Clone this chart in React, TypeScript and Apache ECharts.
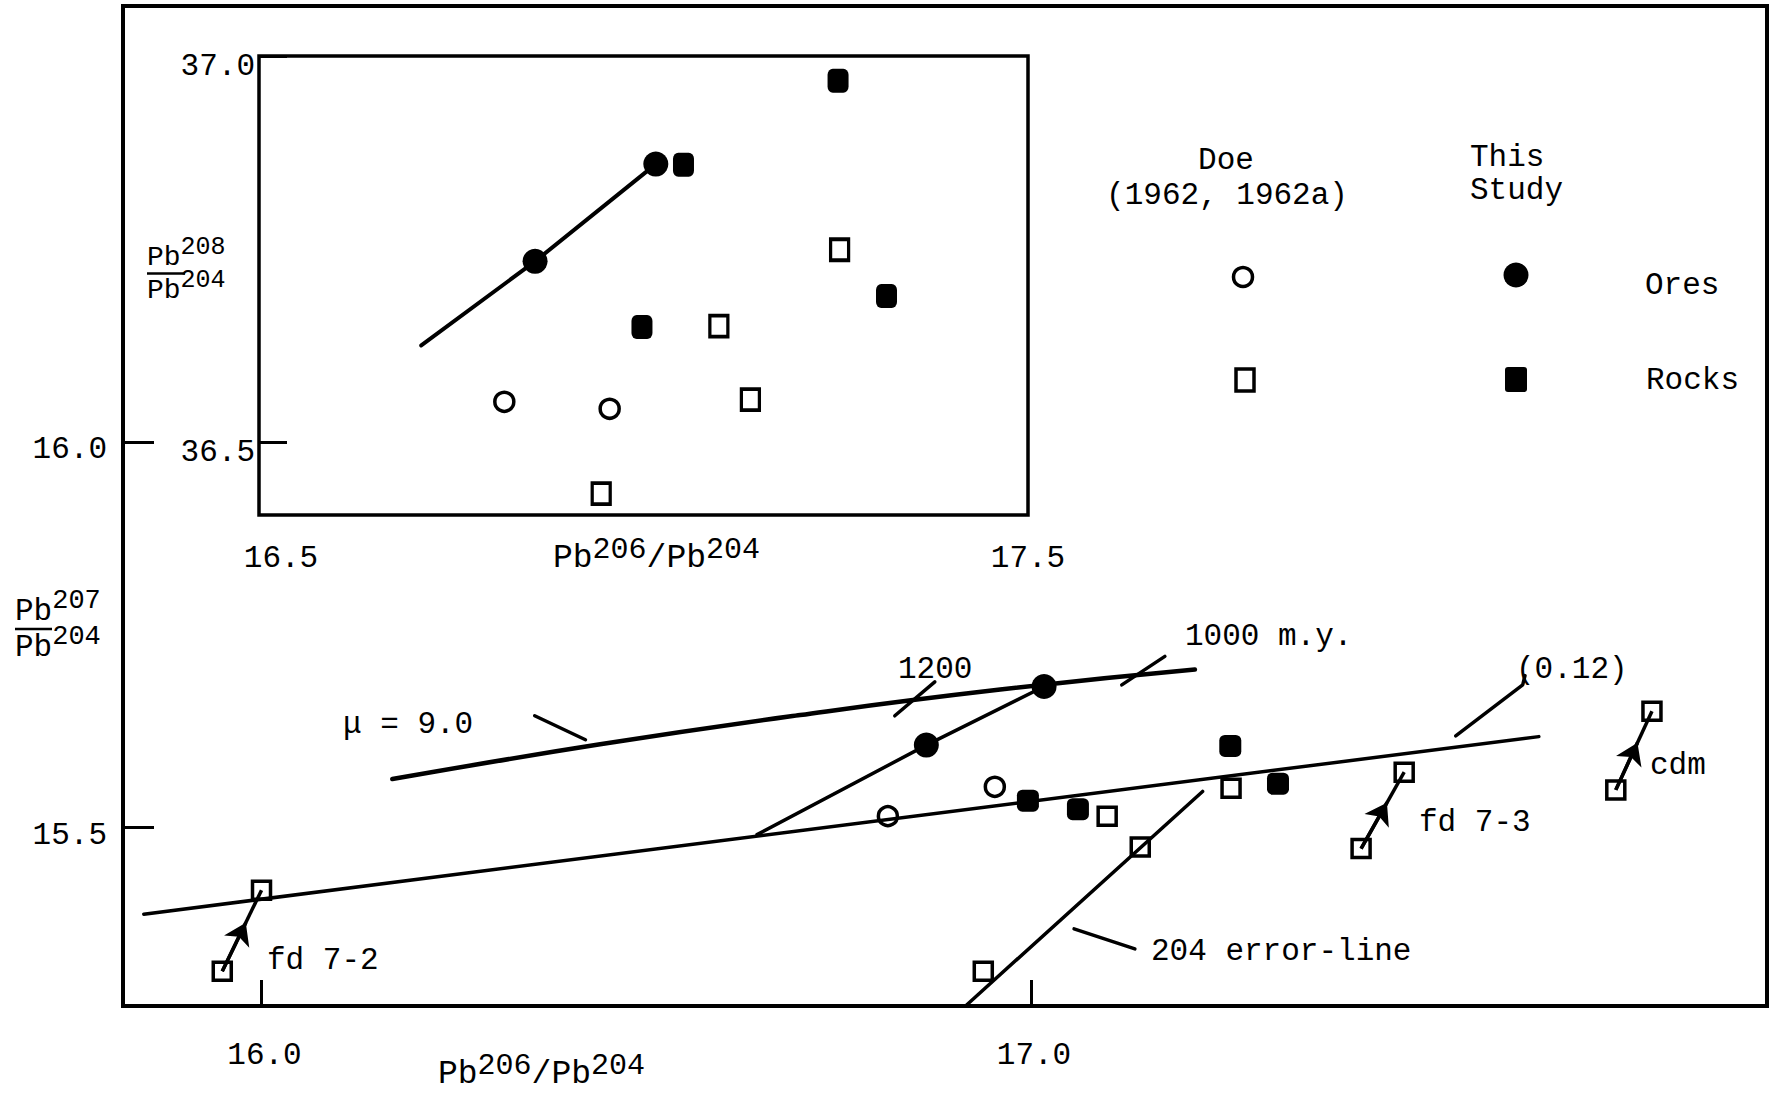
import React, { useEffect, useRef } from 'react';
import * as echarts from 'echarts';

const FONT = '"Liberation Mono", "Courier New", Courier, monospace';
const INK = '#000000';

// ---- tick values ----
const mainXTicks = [16.0, 17.0];
const mainYTicks = [15.5, 16.0];
const insetXTicks = [16.5, 17.5];
const insetYTicks = [36.5, 37.0];

// ---- axis ranges ----
const mainXRange = [15.82, 17.9565];
const mainYRange = [15.269, 16.5646];
const insetXRange = [16.5, 17.5];
const insetYRange = [36.4054, 37.0];

// ---- main plot: Pb206/Pb204 vs Pb207/Pb204 ----
const oresThisStudy = [[16.864, 15.607], [17.017, 15.683]];
const oresDoe = [[16.814, 15.515], [16.953, 15.553]];
const rocksThisStudy = [[16.996, 15.535], [17.061, 15.524], [17.259, 15.606], [17.321, 15.557]];
const rocksDoe = [
  [17.099, 15.515], [17.142, 15.475], [17.260, 15.551], [16.938, 15.314],
  [15.949, 15.314], [16.000, 15.419], // fd 7-2
  [17.429, 15.473], [17.485, 15.572], // fd 7-3
  [17.760, 15.549], [17.807, 15.651], // cdm
];
// arrows: index pairs into rocksDoe (from, to)
const arrowPairs = [[4, 5], [6, 7], [8, 9]];

// growth curve mu = 9.0
const growthCurve = [[16.170, 15.563], [16.440, 15.608], [16.700, 15.646], [16.960, 15.679], [17.213, 15.705]];
const secondaryIsochron = [[16.644, 15.491], [16.864, 15.607], [17.017, 15.683]];
const referenceLine = [[15.847, 15.388], [17.660, 15.618]];
const errorLine = [[16.916, 15.270], [17.223, 15.547]];
const tick1200 = [[16.823, 15.645], [16.875, 15.689]];
const tick1000 = [[17.118, 15.685], [17.174, 15.722]];
const muLeader = [[16.355, 15.645], [16.421, 15.614]];
const ratioLeader = [[17.552, 15.619], [17.639, 15.685], [17.642, 15.697]];
const errorLeader = [[17.056, 15.369], [17.135, 15.343]];

// ---- inset: Pb206/Pb204 vs Pb208/Pb204 ----
const insetOresThisStudy = [[16.859, 36.734], [17.016, 36.860]];
const insetOresDoe = [[16.819, 36.552], [16.956, 36.543]];
const insetRocksThisStudy = [[16.998, 36.649], [17.052, 36.859], [17.253, 36.968], [17.316, 36.689]];
const insetRocksDoe = [[16.945, 36.433], [17.098, 36.650], [17.139, 36.555], [17.255, 36.749]];
const insetLine = [[16.711, 36.625], [16.859, 36.734], [17.016, 36.860]];

const ARROW_FRAC = 0.6;

function lineSeries(name: string, data: number[][], width: number, gi = 0, smooth = false) {
  return {
    type: 'line', name, data, xAxisIndex: gi, yAxisIndex: gi, smooth,
    symbol: 'none', showSymbol: false, silent: true, z: 2,
    lineStyle: { color: INK, width, cap: 'round' },
  };
}

function scatterSeries(name: string, data: number[][], symbol: string, size: any, filled: boolean, gi = 0) {
  return {
    type: 'scatter', name, data, xAxisIndex: gi, yAxisIndex: gi, symbol, symbolSize: size,
    silent: true, z: 3,
    itemStyle: filled
      ? { color: INK, opacity: 1 }
      : { color: 'rgba(255,255,255,0)', borderColor: INK, borderWidth: 3.5, opacity: 1 },
  };
}

function txt(text: string, x: number, y: number, align = 'left', size = 31) {
  return {
    type: 'text', silent: true, z: 10,
    style: { text, x, y, align, verticalAlign: 'middle', fontFamily: FONT, fontSize: size, fill: INK },
  };
}

function supText(parts: string, x: number, y: number, base: number, sup: number, raise: number, align = 'left') {
  return {
    type: 'text', silent: true, z: 10,
    style: {
      text: parts, x, y, align, verticalAlign: 'middle', fill: INK,
      fontFamily: FONT, fontSize: base,
      rich: {
        b: { fontFamily: FONT, fontSize: base, lineHeight: sup + 2 * raise, verticalAlign: 'bottom', fill: INK, color: INK },
        s: { fontFamily: FONT, fontSize: sup, lineHeight: sup, verticalAlign: 'top', fill: INK, color: INK },
      },
    },
  };
}

function buildOption() {
  const arrowFull = arrowPairs.map(([a, b]) => ({ coords: [rocksDoe[a], rocksDoe[b]] }));
  const arrowHead = arrowPairs.map(([a, b]) => {
    const p = rocksDoe[a];
    const q = rocksDoe[b];
    return { coords: [p, [p[0] + (q[0] - p[0]) * ARROW_FRAC, p[1] + (q[1] - p[1]) * ARROW_FRAC]] };
  });

  const tickLabel = { color: INK, fontFamily: FONT, fontSize: 31 };
  const downShift = (pad: number) => ({ d: { padding: [pad, 0, 0, 0], fontFamily: FONT, fontSize: 31, color: INK } });

  return {
    animation: false,
    backgroundColor: '#ffffff',
    grid: [
      { left: 123, top: 6, width: 1644, height: 1000, show: true, borderColor: INK, borderWidth: 4, backgroundColor: 'rgba(0,0,0,0)', containLabel: false },
      { left: 259, top: 56, width: 769, height: 459, show: true, borderColor: INK, borderWidth: 3.5, backgroundColor: '#ffffff', containLabel: false },
    ],
    xAxis: [
      {
        type: 'value', gridIndex: 0, min: mainXRange[0], max: mainXRange[1],
        axisLine: { show: false }, splitLine: { show: false },
        axisTick: { show: true, inside: true, length: 26, customValues: mainXTicks, lineStyle: { color: INK, width: 3 } },
        axisLabel: {
          show: true, customValues: mainXTicks, margin: 34, ...tickLabel,
          formatter: (v: number) => '{d|' + v.toFixed(1) + '}',
          rich: { d: { padding: [0, 0, 0, 6], fontFamily: FONT, fontSize: 31, color: INK } },
        },
      },
      {
        type: 'value', gridIndex: 1, min: insetXRange[0], max: insetXRange[1],
        axisLine: { show: false }, splitLine: { show: false },
        axisTick: { show: false },
        axisLabel: {
          show: true, customValues: insetXTicks, margin: 28, ...tickLabel,
          formatter: (v: number) => (Math.abs(v - insetXTicks[0]) < 1e-9 ? '{a|' + v.toFixed(1) + '}' : v.toFixed(1)),
          rich: { a: { padding: [0, 0, 0, 44], fontFamily: FONT, fontSize: 31, color: INK } },
        },
      },
    ],
    yAxis: [
      {
        type: 'value', gridIndex: 0, min: mainYRange[0], max: mainYRange[1],
        axisLine: { show: false }, splitLine: { show: false },
        axisTick: { show: true, inside: true, length: 31, customValues: mainYTicks, lineStyle: { color: INK, width: 3 } },
        axisLabel: {
          show: true, customValues: mainYTicks, margin: 16, ...tickLabel,
          formatter: (v: number) => '{d|' + v.toFixed(1) + '}', rich: downShift(16),
        },
      },
      {
        type: 'value', gridIndex: 1, min: insetYRange[0], max: insetYRange[1],
        axisLine: { show: false }, splitLine: { show: false },
        axisTick: { show: true, inside: true, length: 28, customValues: insetYTicks, lineStyle: { color: INK, width: 3 } },
        axisLabel: {
          show: true, customValues: insetYTicks, margin: 4, ...tickLabel,
          formatter: (v: number) => '{d|' + v.toFixed(1) + '}', rich: downShift(21),
        },
      },
    ],
    series: [
      lineSeries('mu = 9.0 growth curve', growthCurve, 4.5, 0, true),
      lineSeries('secondary isochron', secondaryIsochron, 3.5),
      lineSeries('(0.12) line', referenceLine, 3.5),
      lineSeries('204 error-line', errorLine, 3.5),
      lineSeries('1200 tick', tick1200, 3.5),
      lineSeries('1000 tick', tick1000, 3.5),
      lineSeries('mu leader', muLeader, 3.5),
      lineSeries('(0.12) leader', ratioLeader, 3.5),
      lineSeries('error-line leader', errorLeader, 3.5),
      {
        type: 'lines', coordinateSystem: 'cartesian2d', xAxisIndex: 0, yAxisIndex: 0, silent: true, z: 2,
        symbol: ['none', 'none'], lineStyle: { color: INK, width: 3.5, opacity: 1 }, data: arrowFull,
      },
      {
        type: 'lines', coordinateSystem: 'cartesian2d', xAxisIndex: 0, yAxisIndex: 0, silent: true, z: 2,
        symbol: ['none', 'arrow'], symbolSize: [0, 21], lineStyle: { color: INK, width: 3.5, opacity: 1 }, data: arrowHead,
      },
      scatterSeries('Ores, this study', oresThisStudy, 'circle', 25, true),
      scatterSeries('Ores, Doe (1962, 1962a)', oresDoe, 'circle', 19, false),
      scatterSeries('Rocks, this study', rocksThisStudy, 'roundRect', 22, true),
      scatterSeries('Rocks, Doe (1962, 1962a)', rocksDoe, 'rect', 18, false),

      lineSeries('inset line', insetLine, 4, 1),
      scatterSeries('Inset ores, this study', insetOresThisStudy, 'circle', 25, true, 1),
      scatterSeries('Inset ores, Doe', insetOresDoe, 'circle', 19, false, 1),
      scatterSeries('Inset rocks, this study', insetRocksThisStudy, 'roundRect', [21, 24], true, 1),
      scatterSeries('Inset rocks, Doe', insetRocksDoe, 'rect', [18, 21], false, 1),
    ],
    graphic: [
      // main y-axis name (fraction)
      supText('{b|Pb}{s|207}', 15, 607, 31, 27, 6),
      { type: 'line', silent: true, z: 10, shape: { x1: 15, y1: 629, x2: 52, y2: 629 }, style: { stroke: INK, lineWidth: 2.5 } },
      supText('{b|Pb}{s|204}', 15, 643, 31, 27, 6),
      // main x-axis name
      supText('{b|Pb}{s|206}{b|/Pb}{s|204}', 438, 1071, 33, 30, 5.25),
      // inset y-axis name (fraction)
      supText('{b|Pb}{s|208}', 147, 253, 28, 25, 5.5),
      { type: 'line', silent: true, z: 10, shape: { x1: 147, y1: 273.5, x2: 185, y2: 273.5 }, style: { stroke: INK, lineWidth: 2.5 } },
      supText('{b|Pb}{s|204}', 147, 286, 28, 25, 5.5),
      // inset x-axis name
      supText('{b|Pb}{s|206}{b|/Pb}{s|204}', 553, 555, 33, 30, 5.25),
      // annotations
      txt('\u03bc = 9.0', 343, 724),
      txt('1200', 898, 669),
      txt('1000 m.y.', 1185, 636),
      txt('(0.12)', 1516, 669),
      txt('fd 7-2', 267, 960),
      txt('fd 7-3', 1419, 822),
      txt('cdm', 1650, 765),
      txt('204 error-line', 1151, 951),
      // legend
      txt('Doe', 1226, 160, 'center'),
      txt('(1962, 1962a)', 1227, 195, 'center'),
      txt('This', 1470, 157),
      txt('Study', 1470, 190),
      txt('Ores', 1645, 285),
      txt('Rocks', 1646, 380),
      { type: 'circle', silent: true, z: 10, shape: { cx: 1243, cy: 277, r: 9.5 }, style: { fill: 'none', stroke: INK, lineWidth: 3.5 } },
      { type: 'circle', silent: true, z: 10, shape: { cx: 1516, cy: 275, r: 12.5 }, style: { fill: INK } },
      { type: 'rect', silent: true, z: 10, shape: { x: 1236, y: 369, width: 18, height: 22 }, style: { fill: 'none', stroke: INK, lineWidth: 3.5 } },
      { type: 'rect', silent: true, z: 10, shape: { x: 1505, y: 367, width: 22, height: 25, r: 3 }, style: { fill: INK } },
    ],
  };
}

export default function App() {
  const ref = useRef<HTMLDivElement>(null);
  useEffect(() => {
    if (!ref.current) return;
    const chart = echarts.init(ref.current, null, { renderer: 'svg' });
    chart.setOption(buildOption() as any);
    return () => chart.dispose();
  }, []);
  return (
    <div
      ref={ref}
      style={{ position: 'fixed', left: 0, top: 0, width: 1769, height: 1096, background: '#ffffff' }}
    />
  );
}
